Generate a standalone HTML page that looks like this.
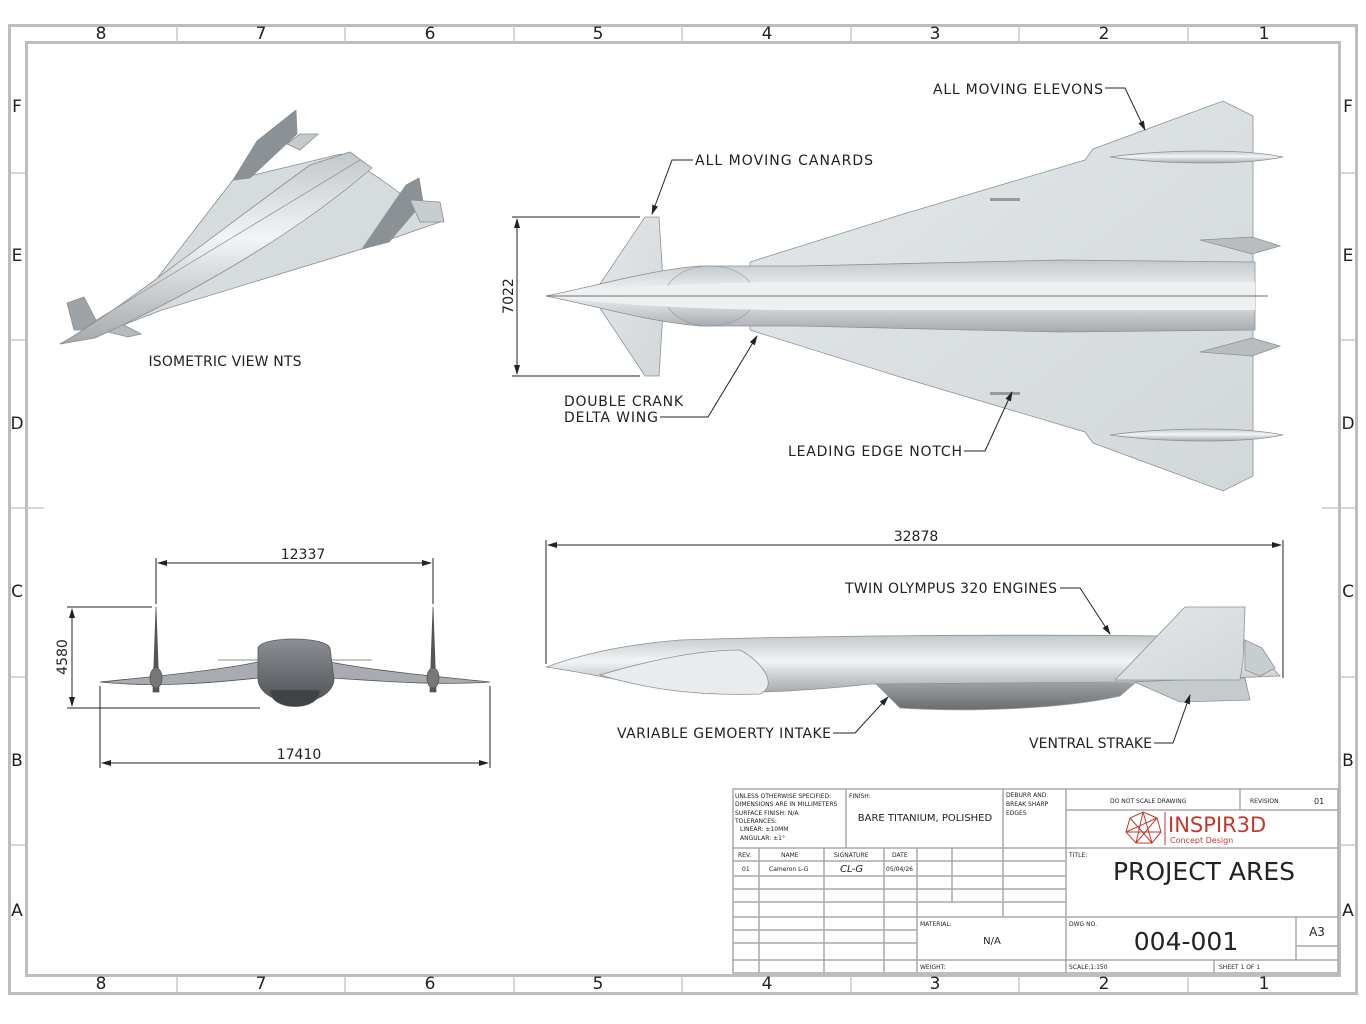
<!DOCTYPE html>
<html><head><meta charset="utf-8"><style>
html,body{margin:0;padding:0;background:#fff;}
svg{display:block;}
text{font-family:"DejaVu Sans","Liberation Sans",sans-serif;fill:#222;}
</style></head><body>
<svg width="1366" height="1024" viewBox="0 0 1366 1024" xmlns="http://www.w3.org/2000/svg">
<defs>
<linearGradient id="gv" x1="0" y1="0" x2="0" y2="1">
<stop offset="0" stop-color="#c2c7cb"/><stop offset="0.45" stop-color="#f2f4f5"/><stop offset="1" stop-color="#a4a9ad"/></linearGradient>
<linearGradient id="gw" x1="0" y1="0" x2="1" y2="1">
<stop offset="0" stop-color="#e3e7ea"/><stop offset="1" stop-color="#d2d7da"/></linearGradient>
<linearGradient id="gd" x1="0" y1="0" x2="0" y2="1">
<stop offset="0" stop-color="#8c9094"/><stop offset="0.5" stop-color="#6e7276"/><stop offset="1" stop-color="#4f5356"/></linearGradient>
<marker id="ar" markerWidth="10" markerHeight="8" refX="9" refY="4" orient="auto" markerUnits="userSpaceOnUse"><path d="M0,1 L10,4 L0,7 z" fill="#222"/></marker>
<marker id="as" markerWidth="10" markerHeight="8" refX="1" refY="4" orient="auto" markerUnits="userSpaceOnUse"><path d="M10,1 L0,4 L10,7 z" fill="#222"/></marker>
</defs>

<!-- borders -->
<rect x="9.5" y="25.5" width="1347" height="968" fill="none" stroke="#bdbdbd" stroke-width="3"/>
<rect x="26.5" y="42.5" width="1313" height="933" fill="none" stroke="#bdbdbd" stroke-width="3"/>
<g stroke="#c8c8c8" stroke-width="1.5">
<line x1="177" y1="26" x2="177" y2="42"/><line x1="345" y1="26" x2="345" y2="42"/><line x1="514" y1="26" x2="514" y2="42"/><line x1="682" y1="26" x2="682" y2="42"/><line x1="851" y1="26" x2="851" y2="42"/><line x1="1019" y1="26" x2="1019" y2="42"/><line x1="1188" y1="26" x2="1188" y2="42"/>
<line x1="177" y1="976" x2="177" y2="992"/><line x1="345" y1="976" x2="345" y2="992"/><line x1="514" y1="976" x2="514" y2="992"/><line x1="682" y1="976" x2="682" y2="992"/><line x1="851" y1="976" x2="851" y2="992"/><line x1="1019" y1="976" x2="1019" y2="992"/><line x1="1188" y1="976" x2="1188" y2="992"/>
<line x1="10" y1="173" x2="26" y2="173"/><line x1="10" y1="340" x2="26" y2="340"/><line x1="10" y1="508" x2="44" y2="508"/><line x1="10" y1="677" x2="26" y2="677"/><line x1="10" y1="845" x2="26" y2="845"/>
<line x1="1340" y1="173" x2="1356" y2="173"/><line x1="1340" y1="340" x2="1356" y2="340"/><line x1="1322" y1="508" x2="1356" y2="508"/><line x1="1340" y1="677" x2="1356" y2="677"/><line x1="1340" y1="845" x2="1356" y2="845"/>
</g>
<g font-size="17" text-anchor="middle">
<text x="101" y="39">8</text><text x="261" y="39">7</text><text x="430" y="39">6</text><text x="598" y="39">5</text><text x="767" y="39">4</text><text x="935" y="39">3</text><text x="1104" y="39">2</text><text x="1264" y="39">1</text>
<text x="101" y="989">8</text><text x="261" y="989">7</text><text x="430" y="989">6</text><text x="598" y="989">5</text><text x="767" y="989">4</text><text x="935" y="989">3</text><text x="1104" y="989">2</text><text x="1264" y="989">1</text>
<text x="17" y="112">F</text><text x="17" y="261">E</text><text x="17" y="429">D</text><text x="17" y="597">C</text><text x="17" y="766">B</text><text x="17" y="916">A</text>
<text x="1348" y="112">F</text><text x="1348" y="261">E</text><text x="1348" y="429">D</text><text x="1348" y="597">C</text><text x="1348" y="766">B</text><text x="1348" y="916">A</text>
</g>

<!-- ISOMETRIC VIEW -->
<g stroke="#8a8e92" stroke-width="0.8">
<polygon points="60,344 138,303 233,180 341,154 379,178 440,222 362,249 162,310 90,338" fill="#d6dbde"/>
<polygon points="233,180 257,141 296,110 297,134 250,178" fill="#8c9195"/>
<polygon points="287,144 300,134 318,134 300,150" fill="#c5cacd"/>
<polygon points="362,249 406,185 419,178 423,202 389,242" fill="#8c9195"/>
<polygon points="410,200 440,202 444,222 420,222" fill="#c8cdd0"/>
<polygon points="67,303 84,297 101,330 74,330" fill="#9ea3a7"/>
<polygon points="114,320 141,334 128,337 108,332" fill="#b5babd"/>
<path d="M60,344 C120,310 220,230 310,165 L350,152 L372,168 C300,230 200,290 95,338 Z" fill="url(#gv)"/>
<line x1="80" y1="330" x2="360" y2="160" stroke="#999"/>
</g>
<text x="225" y="366" font-size="14" text-anchor="middle" textLength="153">ISOMETRIC VIEW NTS</text>

<!-- TOP VIEW -->
<g stroke="#8d9195" stroke-width="0.8">
<polygon points="592,296 645,217 659,217 664,296 659,376 645,376" fill="url(#gw)"/>
<polygon points="750,262 900,215 1085,160 1093,149 1223,101 1253,116 1253,476 1223,491 1093,443 1085,432 900,377 750,330" fill="url(#gw)"/>
<polygon points="1200,240 1252,237 1280,246 1252,254" fill="#b8bdc0"/>
<polygon points="1200,352 1252,338 1280,346 1252,356" fill="#b8bdc0"/>
<path d="M546,296 C600,285 650,270 700,266 L800,266 C900,264 1000,262 1060,260 L1255,262 L1255,330 L1060,332 C1000,330 900,328 800,326 L700,326 C650,322 600,307 546,296 Z" fill="url(#gv)"/>
<ellipse cx="710" cy="296" rx="45" ry="30" fill="url(#gv)" opacity="0.7"/>
<path d="M546,296 C600,288 700,282 800,282 L1255,282 L1255,310 L800,310 C700,310 600,304 546,296 Z" fill="#eef0f1" stroke="none"/>
<path d="M1110,157 C1160,150 1240,148 1283,157 C1240,166 1160,164 1110,157 Z" fill="url(#gv)"/>
<path d="M1110,435 C1160,428 1240,426 1283,435 C1240,444 1160,442 1110,435 Z" fill="url(#gv)"/>
<rect x="990" y="198" width="30" height="3" fill="#999" stroke="none"/>
<rect x="990" y="392" width="30" height="3" fill="#999" stroke="none"/>
</g>
<line x1="546" y1="296" x2="1268" y2="296" stroke="#444" stroke-width="0.8"/>
<g stroke="#222" stroke-width="1" fill="none">
<line x1="512" y1="217" x2="640" y2="217"/><line x1="512" y1="376" x2="640" y2="376"/>
<line x1="517" y1="219" x2="517" y2="374" marker-start="url(#as)" marker-end="url(#ar)"/>
</g>
<text x="0" y="0" font-size="14" text-anchor="middle" transform="translate(513,296) rotate(-90)">7022</text>

<g stroke="#222" stroke-width="1" fill="none">
<polyline points="1105,88 1125,88 1145,130" marker-end="url(#ar)"/>
<polyline points="693,160 672,160 652,214" marker-end="url(#ar)"/>
<polyline points="660,417 708,417 757,336" marker-end="url(#ar)"/>
<polyline points="964,451 985,451 1012,392" marker-end="url(#ar)"/>
</g>
<g font-size="14">
<text x="933" y="94" textLength="170">ALL MOVING ELEVONS</text>
<text x="695" y="165" textLength="178">ALL MOVING CANARDS</text>
<text x="564" y="406" textLength="119">DOUBLE CRANK</text>
<text x="564" y="422" textLength="94">DELTA WING</text>
<text x="788" y="456" textLength="174">LEADING EDGE NOTCH</text>
</g>

<!-- FRONT VIEW -->
<g stroke="#555" stroke-width="0.8">
<path d="M100,682 C160,676 220,670 258,662 L330,662 C370,670 430,676 490,682 C430,686 370,680 330,678 L258,678 C220,682 160,688 100,682 Z" fill="#a8acb0"/>
<line x1="218" y1="660" x2="290" y2="660" stroke="#666"/><line x1="300" y1="660" x2="372" y2="660" stroke="#666"/>
<path d="M258,648 C262,636 325,636 330,648 L334,680 C330,710 262,710 258,680 Z" fill="url(#gd)"/>
<path d="M270,690 C270,712 320,712 320,690 Z" fill="#3f4346"/>
<path d="M153,692 L156,607 L159,692 Z" fill="#555"/>
<path d="M430,692 L433,607 L436,692 Z" fill="#555"/>
<ellipse cx="156" cy="678" rx="6" ry="10" fill="#777"/><ellipse cx="433" cy="678" rx="6" ry="10" fill="#777"/>
</g>
<g stroke="#222" stroke-width="1" fill="none">
<line x1="156" y1="558" x2="156" y2="604"/><line x1="433" y1="558" x2="433" y2="604"/>
<line x1="158" y1="563" x2="431" y2="563" marker-start="url(#as)" marker-end="url(#ar)"/>
<line x1="100" y1="686" x2="100" y2="768"/><line x1="490" y1="686" x2="490" y2="768"/>
<line x1="102" y1="763" x2="488" y2="763" marker-start="url(#as)" marker-end="url(#ar)"/>
<line x1="67" y1="607" x2="152" y2="607"/><line x1="67" y1="708" x2="260" y2="708"/>
<line x1="72" y1="609" x2="72" y2="706" marker-start="url(#as)" marker-end="url(#ar)"/>
</g>
<g font-size="14" text-anchor="middle">
<text x="303" y="559">12337</text><text x="299" y="759">17410</text>
<text transform="translate(67,657) rotate(-90)">4580</text>
</g>

<!-- SIDE VIEW -->
<g stroke="#8d9195" stroke-width="0.8">
<path d="M875,683 L900,708 C960,712 1060,710 1120,696 L1135,683 Z" fill="url(#gd)" opacity="0.85"/>
<path d="M1130,680 L1245,678 L1250,700 L1180,702 Z" fill="#c5cacd"/>
<path d="M546,667 C580,655 620,645 680,640 C800,636 1000,634 1160,636 L1245,640 L1270,665 L1280,676 L1130,682 L870,684 C800,692 720,696 660,688 C620,680 580,672 546,667 Z" fill="url(#gv)"/>
<path d="M600,675 C650,660 700,650 740,650 C760,660 780,685 760,694 C700,696 650,690 600,675 Z" fill="#e9ecee"/>
<polygon points="1115,680 1185,607 1245,607 1243,662 1240,680" fill="url(#gw)"/>
<path d="M1245,640 L1262,648 L1275,668 L1260,676 L1245,670 Z" fill="#c8cdd0"/>
</g>
<g stroke="#222" stroke-width="1" fill="none">
<line x1="546" y1="540" x2="546" y2="664"/><line x1="1283" y1="540" x2="1283" y2="678"/>
<line x1="548" y1="545" x2="1281" y2="545" marker-start="url(#as)" marker-end="url(#ar)"/>
<polyline points="1060,588 1080,588 1110,634" marker-end="url(#ar)"/>
<polyline points="833,733 855,733 888,697" marker-end="url(#ar)"/>
<polyline points="1154,743 1173,743 1190,695" marker-end="url(#ar)"/>
</g>
<g font-size="14">
<text x="916" y="541" text-anchor="middle">32878</text>
<text x="845" y="593" textLength="212">TWIN OLYMPUS 320 ENGINES</text>
<text x="617" y="738" textLength="214">VARIABLE GEMOERTY INTAKE</text>
<text x="1029" y="748" textLength="123">VENTRAL STRAKE</text>
</g>

<!-- TITLE BLOCK -->
<g stroke="#a8a8a8" stroke-width="1.5" fill="none">
<rect x="733" y="789" width="605" height="184" fill="#fff"/>
<line x1="733" y1="848" x2="1066" y2="848"/>
<line x1="846" y1="789" x2="846" y2="848"/><line x1="1003" y1="789" x2="1003" y2="917"/><line x1="1066" y1="789" x2="1066" y2="973"/>
<line x1="733" y1="861" x2="1066" y2="861"/><line x1="733" y1="876" x2="1066" y2="876"/><line x1="733" y1="889" x2="1066" y2="889"/><line x1="733" y1="902" x2="1066" y2="902"/>
<line x1="733" y1="917" x2="1338" y2="917"/><line x1="733" y1="930" x2="917" y2="930"/><line x1="733" y1="943" x2="917" y2="943"/><line x1="733" y1="960" x2="1338" y2="960"/>
<line x1="759" y1="848" x2="759" y2="973"/><line x1="824" y1="848" x2="824" y2="973"/><line x1="884" y1="848" x2="884" y2="973"/><line x1="917" y1="848" x2="917" y2="973"/><line x1="952" y1="848" x2="952" y2="902"/>
<line x1="1066" y1="810" x2="1338" y2="810"/><line x1="1240" y1="789" x2="1240" y2="810"/>
<line x1="1066" y1="848" x2="1338" y2="848"/>
<line x1="1296" y1="917" x2="1296" y2="960"/><line x1="1296" y1="946" x2="1338" y2="946"/>
<line x1="1214" y1="960" x2="1214" y2="973"/>
</g>
<g font-size="6" fill="#333">
<text x="735" y="798">UNLESS OTHERWISE SPECIFIED:</text>
<text x="735" y="806">DIMENSIONS ARE IN MILLIMETERS</text>
<text x="735" y="815">SURFACE FINISH: N/A</text>
<text x="735" y="823">TOLERANCES:</text>
<text x="740" y="831">LINEAR: ±10MM</text>
<text x="740" y="840">ANGULAR: ±1°</text>
<text x="849" y="798">FINISH:</text>
<text x="1006" y="797">DEBURR AND</text><text x="1006" y="806">BREAK SHARP</text><text x="1006" y="815">EDGES</text>
<text x="1110" y="803">DO NOT SCALE DRAWING</text>
<text x="1250" y="803">REVISION</text>
<text x="738" y="857">REV.</text><text x="781" y="857">NAME</text><text x="834" y="857">SIGNATURE</text><text x="892" y="857">DATE</text>
<text x="742" y="871">01</text><text x="769" y="871">Cameron L-G</text><text x="886" y="871">05/04/26</text>
<text x="1069" y="857">TITLE:</text>
<text x="920" y="926">MATERIAL:</text>
<text x="1069" y="926">DWG NO.</text>
<text x="920" y="969">WEIGHT:</text>
<text x="1069" y="969">SCALE:1:150</text>
<text x="1219" y="969">SHEET 1 OF 1</text>
</g>
<text x="1314" y="804" font-size="8">01</text>
<text x="840" y="872" font-size="10" font-style="italic">CL-G</text>
<text x="925" y="821" font-size="10" text-anchor="middle">BARE TITANIUM, POLISHED</text>
<text x="992" y="944" font-size="10" text-anchor="middle">N/A</text>
<text x="1204" y="880" font-size="25" text-anchor="middle" fill="#111">PROJECT ARES</text>
<text x="1186" y="950" font-size="25" text-anchor="middle" fill="#111">004-001</text>
<text x="1317" y="936" font-size="12" text-anchor="middle">A3</text>
<g stroke="#c0392b" stroke-width="1" fill="none">
<polygon points="1143,812 1157,818 1161,832 1152,843 1136,843 1126,832 1130,818"/>
<polyline points="1130,818 1152,843 1143,812 1136,843 1157,818 1126,832 1161,832"/>
<line x1="1165" y1="812" x2="1165" y2="845"/>
</g>
<text x="1168" y="832" font-size="21" style="fill:#c0392b">INSPIR3D</text>
<text x="1170" y="843" font-size="8" style="fill:#c0392b">Concept Design</text>
</svg>
</body></html>
